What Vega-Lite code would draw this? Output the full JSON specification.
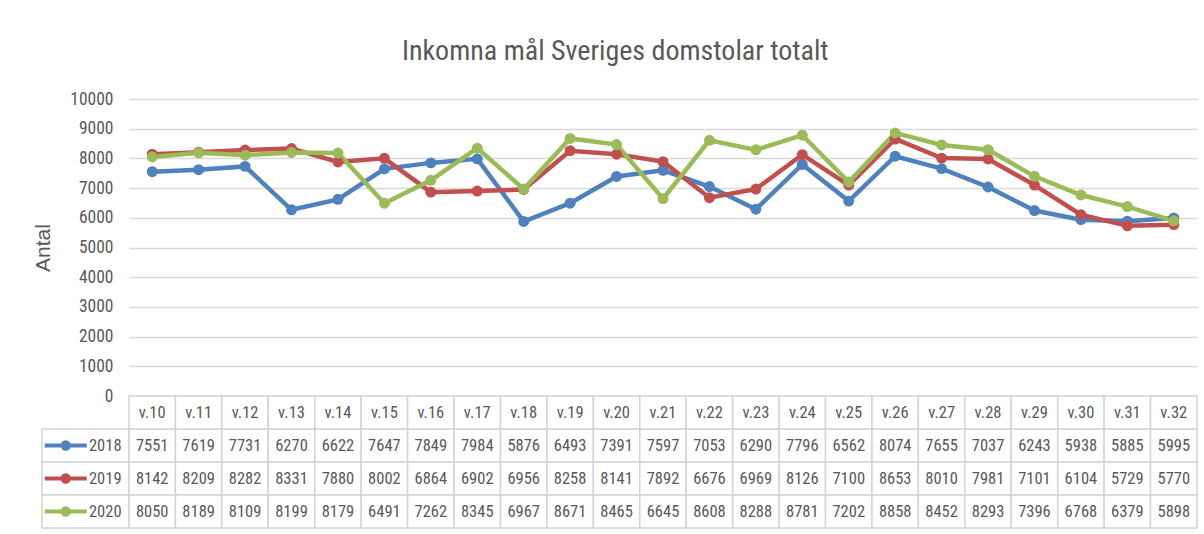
{
  "$schema": "https://vega.github.io/schema/vega-lite/v6.json",
  "padding": {"left": 32, "top": 38, "right": 7, "bottom": 6},
  "background": "white",
  "title": {"text": "Inkomna mål Sveriges domstolar totalt", "fontSize": 28, "font": "Roboto Condensed, DejaVu Sans Condensed, Liberation Sans", "fontWeight": "normal", "color": "#595959", "offset": 24, "anchor": "middle"},
  "config": {"view": {"stroke": null}, "font": "Roboto Condensed, DejaVu Sans Condensed, Liberation Sans"},
  "datasets": {
    "d": [
      {"week": "v.10", "year": "2018", "value": 7551}, {"week": "v.11", "year": "2018", "value": 7619}, {"week": "v.12", "year": "2018", "value": 7731}, {"week": "v.13", "year": "2018", "value": 6270}, {"week": "v.14", "year": "2018", "value": 6622}, {"week": "v.15", "year": "2018", "value": 7647}, {"week": "v.16", "year": "2018", "value": 7849}, {"week": "v.17", "year": "2018", "value": 7984}, {"week": "v.18", "year": "2018", "value": 5876}, {"week": "v.19", "year": "2018", "value": 6493}, {"week": "v.20", "year": "2018", "value": 7391}, {"week": "v.21", "year": "2018", "value": 7597}, {"week": "v.22", "year": "2018", "value": 7053}, {"week": "v.23", "year": "2018", "value": 6290}, {"week": "v.24", "year": "2018", "value": 7796}, {"week": "v.25", "year": "2018", "value": 6562}, {"week": "v.26", "year": "2018", "value": 8074}, {"week": "v.27", "year": "2018", "value": 7655}, {"week": "v.28", "year": "2018", "value": 7037}, {"week": "v.29", "year": "2018", "value": 6243}, {"week": "v.30", "year": "2018", "value": 5938}, {"week": "v.31", "year": "2018", "value": 5885}, {"week": "v.32", "year": "2018", "value": 5995},
      {"week": "v.10", "year": "2019", "value": 8142}, {"week": "v.11", "year": "2019", "value": 8209}, {"week": "v.12", "year": "2019", "value": 8282}, {"week": "v.13", "year": "2019", "value": 8331}, {"week": "v.14", "year": "2019", "value": 7880}, {"week": "v.15", "year": "2019", "value": 8002}, {"week": "v.16", "year": "2019", "value": 6864}, {"week": "v.17", "year": "2019", "value": 6902}, {"week": "v.18", "year": "2019", "value": 6956}, {"week": "v.19", "year": "2019", "value": 8258}, {"week": "v.20", "year": "2019", "value": 8141}, {"week": "v.21", "year": "2019", "value": 7892}, {"week": "v.22", "year": "2019", "value": 6676}, {"week": "v.23", "year": "2019", "value": 6969}, {"week": "v.24", "year": "2019", "value": 8126}, {"week": "v.25", "year": "2019", "value": 7100}, {"week": "v.26", "year": "2019", "value": 8653}, {"week": "v.27", "year": "2019", "value": 8010}, {"week": "v.28", "year": "2019", "value": 7981}, {"week": "v.29", "year": "2019", "value": 7101}, {"week": "v.30", "year": "2019", "value": 6104}, {"week": "v.31", "year": "2019", "value": 5729}, {"week": "v.32", "year": "2019", "value": 5770},
      {"week": "v.10", "year": "2020", "value": 8050}, {"week": "v.11", "year": "2020", "value": 8189}, {"week": "v.12", "year": "2020", "value": 8109}, {"week": "v.13", "year": "2020", "value": 8199}, {"week": "v.14", "year": "2020", "value": 8179}, {"week": "v.15", "year": "2020", "value": 6491}, {"week": "v.16", "year": "2020", "value": 7262}, {"week": "v.17", "year": "2020", "value": 8345}, {"week": "v.18", "year": "2020", "value": 6967}, {"week": "v.19", "year": "2020", "value": 8671}, {"week": "v.20", "year": "2020", "value": 8465}, {"week": "v.21", "year": "2020", "value": 6645}, {"week": "v.22", "year": "2020", "value": 8608}, {"week": "v.23", "year": "2020", "value": 8288}, {"week": "v.24", "year": "2020", "value": 8781}, {"week": "v.25", "year": "2020", "value": 7202}, {"week": "v.26", "year": "2020", "value": 8858}, {"week": "v.27", "year": "2020", "value": 8452}, {"week": "v.28", "year": "2020", "value": 8293}, {"week": "v.29", "year": "2020", "value": 7396}, {"week": "v.30", "year": "2020", "value": 6768}, {"week": "v.31", "year": "2020", "value": 6379}, {"week": "v.32", "year": "2020", "value": 5898}
    ]
  },
  "columns": 2,
  "spacing": 0,
  "bounds": "flush",
  "align": "each",
  "concat": [
    {
      "width": 87, "height": 297,
      "data": {"values": [{"t": ""}]},
      "mark": {"type": "text"},
      "encoding": {"text": {"field": "t"}}
    },
    {
      "width": 1068, "height": 297,
      "data": {"name": "d"},
      "encoding": {
        "x": {"field": "week", "type": "ordinal", "scale": {"type": "point", "padding": 0.5}, "axis": null},
        "y": {"field": "value", "type": "quantitative", "scale": {"domain": [0, 10000], "nice": false, "zero": true},
          "axis": {"values": [0,1000,2000,3000,4000,5000,6000,7000,8000,9000,10000], "format": "d", "grid": true, "gridColor": "#d9d9d9", "gridWidth": 1.5, "domain": false, "ticks": false, "labelPadding": 16, "labelFontSize": 17.5, "labelColor": "#595959", "title": "Antal", "titleFontSize": 21, "titleFont": "Liberation Sans", "titleFontWeight": "normal", "titleColor": "#595959", "titlePadding": 16}},
        "color": {"field": "year", "type": "nominal", "scale": {"domain": ["2018", "2019", "2020"], "range": ["#4F81BD", "#C0504D", "#9BBB59"]}, "legend": null}
      },
      "layer": [
        {"mark": {"type": "line", "strokeWidth": 4.5}},
        {"mark": {"type": "point", "filled": true, "opacity": 1, "size": 120, "shape": "circle"}}
      ]
    },
    {
      "width": 87, "height": 132,
      "data": {"name": "d"},
      "transform": [{"filter": "datum.week == 'v.10'"}],
      "encoding": {
        "y": {"field": "year", "type": "nominal", "scale": {"type": "band", "domain": ["v", "2018", "2019", "2020"], "paddingInner": 0, "paddingOuter": 0}, "axis": null}
      },
      "layer": [
        {"mark": {"type": "rect", "fill": "white", "stroke": "#d4d4d4", "strokeWidth": 1.5}},
        {"mark": {"type": "point", "filled": true, "opacity": 1, "size": 1764, "strokeWidth": 4, "shape": "M-1,0L1,0M0.15,0A0.15,0.15,0,1,1,-0.15,0A0.15,0.15,0,1,1,0.15,0Z"},
          "encoding": {
            "x": {"datum": "sym", "type": "nominal", "scale": {"type": "point", "domain": ["sym", "lab"], "padding": 0.6}, "axis": null},
            "color": {"field": "year", "type": "nominal", "scale": {"domain": ["2018", "2019", "2020"], "range": ["#4F81BD", "#C0504D", "#9BBB59"]}, "legend": null},
            "stroke": {"field": "year", "type": "nominal", "scale": {"domain": ["2018", "2019", "2020"], "range": ["#4F81BD", "#C0504D", "#9BBB59"]}, "legend": null}
          }},
        {"mark": {"type": "text", "fontSize": 16.5, "color": "#595959"},
          "encoding": {
            "x": {"datum": "lab", "type": "nominal", "scale": {"type": "point", "domain": ["sym", "lab"], "padding": 0.6}, "axis": null},
            "text": {"field": "year"}
          }}
      ]
    },
    {
      "width": 1068, "height": 132,
      "data": {"name": "d"},
      "encoding": {
        "x": {"field": "week", "type": "ordinal", "scale": {"type": "band", "paddingInner": 0, "paddingOuter": 0}, "axis": null}
      },
      "layer": [
        {"mark": {"type": "rect", "fill": "white", "stroke": "#d4d4d4", "strokeWidth": 1.5},
          "encoding": {"y": {"field": "year", "type": "nominal", "scale": {"type": "band", "domain": ["v", "2018", "2019", "2020"], "paddingInner": 0, "paddingOuter": 0}, "axis": null}}},
        {"transform": [{"filter": "datum.year == '2018'"}],
          "mark": {"type": "rect", "fill": "white", "stroke": "#d4d4d4", "strokeWidth": 1.5},
          "encoding": {"y": {"datum": "v", "type": "nominal"}}},
        {"mark": {"type": "text", "fontSize": 16.5, "color": "#595959"},
          "encoding": {"y": {"field": "year", "type": "nominal"}, "text": {"field": "value", "type": "quantitative", "format": "d"}}},
        {"transform": [{"filter": "datum.year == '2018'"}],
          "mark": {"type": "text", "fontSize": 16.5, "color": "#595959"},
          "encoding": {"y": {"datum": "v", "type": "nominal"}, "text": {"field": "week"}}}
      ]
    }
  ]
}
